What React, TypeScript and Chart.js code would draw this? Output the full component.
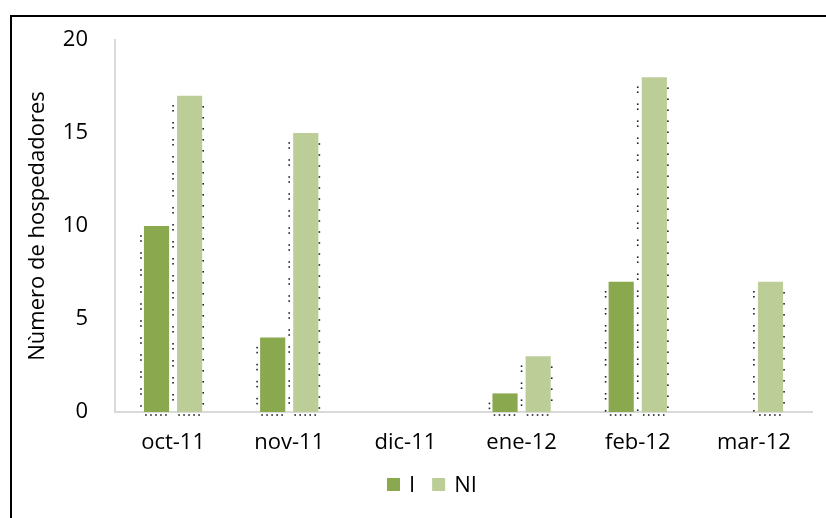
import React, { useEffect, useRef } from "react";
import { Chart, registerables } from "chart.js";

Chart.register(...registerables);

// Hospedadores por mes: infectados (I) y no infectados (NI)
const months = ["oct-11", "nov-11", "dic-11", "ene-12", "feb-12", "mar-12"];
const infectados = [10, 4, 0, 1, 7, 0];
const noInfectados = [17, 15, 0, 3, 18, 7];
const seriesNames = ["I", "NI"];
const seriesColors = ["#8aa84e", "#bccd98"];
const yMin = 0;
const yMax = 20;
const yStep = 5;

const FONT = "'Open Sans', 'DejaVu Sans', sans-serif";
const FONT_SIZE = 22;

// Sparse black dots along the sides and foot of each bar
const dottedEdges = {
  id: "dottedEdges",
  afterDatasetsDraw(chart: any) {
    const ctx = chart.ctx;
    ctx.save();
    ctx.fillStyle = "#222";
    const dot = (x: number, y: number) => ctx.fillRect(x - 0.8, y - 0.8, 1.6, 1.6);
    chart.data.datasets.forEach((ds: any, di: number) => {
      const meta = chart.getDatasetMeta(di);
      meta.data.forEach((bar: any, i: number) => {
        const v = ds.data[i];
        if (!v) return;
        const { x, y, base, width } = bar.getProps(["x", "y", "base", "width"], true);
        const left = x - width / 2 - (di === 0 ? 3 : 4);
        const right = x + width / 2 + 1;
        // left side: dots in pairs
        for (let yy = y + 10; yy < base - 1; yy += 17) {
          dot(left, yy);
          if (yy + 5 < base - 1) dot(left, yy + 5);
        }
        // right side of the lighter bars
        if (di === 1) {
          for (let yy = y + 11; yy < base - 1; yy += 11) dot(right, yy);
        }
        // along the foot
        for (let xx = x - width / 2 + 2; xx < x + width / 2 - 1; xx += 5) dot(xx, base + 3);
      });
    });
    ctx.restore();
  },
};

// Legend drawn under the axis with square swatches
const bottomLegend = {
  id: "bottomLegend",
  afterDraw(chart: any) {
    const ctx = chart.ctx;
    ctx.save();
    ctx.font = `${FONT_SIZE}px ${FONT}`;
    ctx.textBaseline = "middle";
    ctx.textAlign = "left";
    const box = 13;
    const cy = 467.5;
    let x = 375;
    chart.data.datasets.forEach((ds: any) => {
      ctx.fillStyle = ds.backgroundColor;
      ctx.fillRect(x, cy - box / 2, box, box);
      x += box + 9;
      ctx.fillStyle = "#000";
      ctx.fillText(ds.label, x, cy + 1);
      x += ctx.measureText(ds.label).width + 17;
    });
    ctx.restore();
  },
};

export default function App() {
  const canvasRef = useRef<HTMLCanvasElement | null>(null);

  useEffect(() => {
    if (!canvasRef.current) return;
    const chart = new Chart(canvasRef.current, {
      type: "bar",
      data: {
        labels: months,
        datasets: [
          { label: seriesNames[0], data: infectados, backgroundColor: seriesColors[0] },
          { label: seriesNames[1], data: noInfectados, backgroundColor: seriesColors[1] },
        ],
      },
      options: {
        responsive: false,
        animation: false,
        datasets: {
          bar: { categoryPercentage: 0.57, barPercentage: 0.76 },
        },
        layout: { padding: { top: 23, left: 0, right: 14, bottom: 40 } },
        plugins: {
          legend: { display: false },
          tooltip: { enabled: false },
        },
        scales: {
          x: {
            grid: { display: false, drawTicks: false },
            border: { display: true, color: "#d9d9d9", width: 2 },
            ticks: {
              color: "#000",
              font: { family: FONT, size: FONT_SIZE },
              padding: 18,
              maxRotation: 0,
            },
            afterFit(scale: any) {
              scale.height = 66;
              scale.paddingLeft = 0;
              scale.paddingRight = 0;
            },
          },
          y: {
            min: yMin,
            max: yMax,
            grid: { display: false, drawTicks: false },
            border: { display: true, color: "#d9d9d9", width: 2 },
            ticks: {
              stepSize: yStep,
              color: "#000",
              font: { family: FONT, size: FONT_SIZE },
              padding: 27,
            },
            title: {
              display: true,
              text: "Nùmero de hospedadores",
              color: "#000",
              font: { family: FONT, size: FONT_SIZE },
              padding: { top: 13, bottom: 0 },
            },
            afterFit(scale: any) {
              scale.width = 103;
              scale.paddingTop = 0;
              scale.paddingBottom = 0;
            },
          },
        },
      },
      plugins: [dottedEdges, bottomLegend],
    });
    return () => chart.destroy();
  }, []);

  return (
    <div
      style={{
        position: "absolute",
        left: 10,
        top: 15,
        width: 816,
        height: 503,
        boxSizing: "border-box",
        borderTop: "2px solid #000",
        borderLeft: "2px solid #000",
        background: "#fff",
      }}
    >
      <canvas ref={canvasRef} width={814} height={501} style={{ display: "block" }} />
    </div>
  );
}
